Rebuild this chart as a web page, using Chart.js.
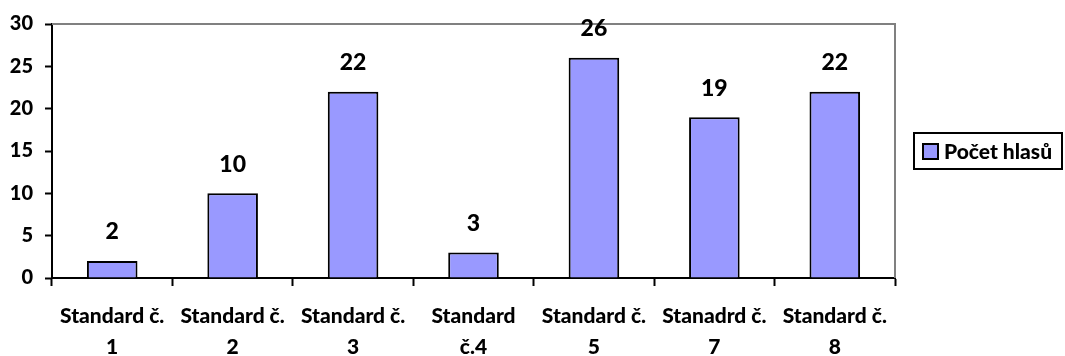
<!DOCTYPE html>
<html>
<head>
<meta charset="utf-8">
<script src="https://cdn.jsdelivr.net/npm/chart.js@4/dist/chart.umd.min.js"></script>
<style>
  html, body { margin: 0; padding: 0; background: #fff; }
  #wrap { width: 1065px; height: 356px; }
</style>
</head>
<body>
<div id="wrap"><canvas id="c"></canvas></div>
<script>
var categories = [
  ["Standard č.", "1"],
  ["Standard č.", "2"],
  ["Standard č.", "3"],
  ["Standard", "č.4"],
  ["Standard č.", "5"],
  ["Stanadrd č.", "7"],
  ["Standard č.", "8"]
];
var votes = [2, 10, 22, 3, 26, 19, 22];
var seriesName = "Počet hlasů";

var font = "Lato, 'Open Sans', sans-serif";
var weight = "900";

// value labels above the bars, grey frame, boxed legend
var extras = {
  id: "extras",
  afterDatasetsDraw: function(chart) {
    var ctx = chart.ctx;
    var meta = chart.getDatasetMeta(0);
    ctx.save();
    ctx.font = weight + " 23px " + font;
    ctx.fillStyle = "#000";
    ctx.textAlign = "center";
    ctx.textBaseline = "middle";
    meta.data.forEach(function(bar, i) {
      ctx.fillText(String(votes[i]), bar.x, bar.y - 29);
    });
    ctx.restore();
  },
  beforeDatasetsDraw: function(chart) {
    var ctx = chart.ctx;
    var a = chart.chartArea;
    ctx.save();
    ctx.strokeStyle = "#808080";
    ctx.lineWidth = 2;
    ctx.beginPath();
    ctx.moveTo(a.left, a.top);
    ctx.lineTo(a.right, a.top);
    ctx.lineTo(a.right, a.bottom);
    ctx.stroke();
    ctx.restore();
  },
  afterDraw: function(chart) {
    var ctx = chart.ctx;
    ctx.save();
    ctx.strokeStyle = "#000";
    ctx.lineWidth = 2;
    ctx.strokeRect(914, 133, 148, 36);
    ctx.fillStyle = "#9999FF";
    ctx.fillRect(923, 144, 15, 15);
    ctx.lineWidth = 2;
    ctx.strokeRect(923, 144, 15, 15);
    ctx.font = weight + " 21px " + font;
    ctx.fillStyle = "#000";
    ctx.textAlign = "left";
    ctx.textBaseline = "middle";
    ctx.fillText(seriesName, 944, 152);
    ctx.restore();
  }
};

new Chart(document.getElementById("c"), {
  type: "bar",
  data: {
    labels: categories,
    datasets: [{
      label: seriesName,
      data: votes,
      backgroundColor: "#9999FF",
      borderColor: "#000",
      borderWidth: 2,
      categoryPercentage: 0.42,
      barPercentage: 1
    }]
  },
  options: {
    responsive: true,
    maintainAspectRatio: false,
    animation: false,
    layout: { padding: { top: 22, right: 170, left: 0, bottom: 0 } },
    plugins: {
      legend: { display: false },
      tooltip: { enabled: false }
    },
    scales: {
      x: {
        grid: {
          display: true,
          drawOnChartArea: false,
          drawTicks: true,
          tickLength: 8,
          tickWidth: 2,
          tickColor: "#000",
          offset: true
        },
        border: { color: "#000", width: 2 },
        ticks: {
          color: "#000",
          font: { family: font, size: 21, weight: weight, lineHeight: 1.48 },
          padding: 15,
          maxRotation: 0,
          autoSkip: false
        },
        afterFit: function(s) { s.height = 78; }
      },
      y: {
        min: 0,
        max: 30,
        ticks: {
          stepSize: 5,
          color: "#000",
          font: { family: font, size: 20, weight: weight },
          padding: 12
        },
        grid: {
          display: true,
          drawOnChartArea: false,
          drawTicks: true,
          tickLength: 7,
          tickWidth: 2,
          tickColor: "#000"
        },
        border: { color: "#000", width: 2 },
        afterFit: function(s) { s.width = 52; }
      }
    }
  },
  plugins: [extras]
});
</script>
</body>
</html>
